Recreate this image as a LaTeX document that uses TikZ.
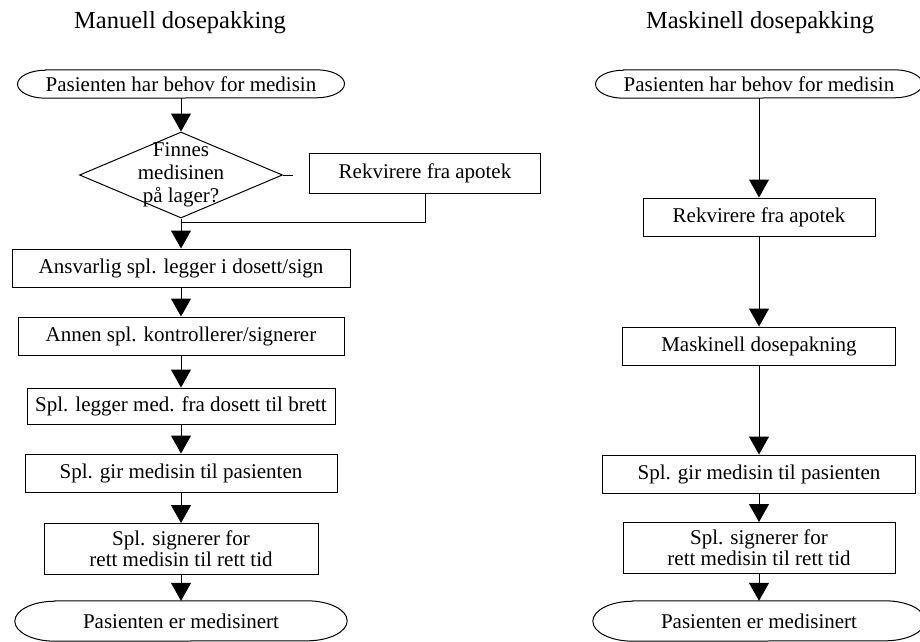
\documentclass[tikz,border=0pt]{standalone}
\usepackage{fontspec}
\setmainfont{Liberation Serif}
\usetikzlibrary{shapes.geometric,arrows.meta}
\tikzset{
    every node/.style={inner sep=0mm, align=center, font=\fontsize{21}{21}\selectfont}
}
\tikzset{
    box/.style={rectangle, draw, line width=1pt, minimum height=38pt},
    decision/.style={diamond, draw, line width=1pt, minimum width=203pt, minimum height=86pt},
    term/.style={rectangle, minimum height=#1,
        append after command={\pgfextra{\draw[line width=1pt]
            (\tikzlastnode.north west) -- (\tikzlastnode.north east)
            arc[start angle=90, end angle=-90, x radius=#1, y radius=#1/2]
            -- (\tikzlastnode.south west)
            arc[start angle=270, end angle=90, x radius=#1, y radius=#1/2] -- cycle;}}},
    title/.style={font=\fontsize{24.5}{24.5}\selectfont},
    arr/.style={-{Triangle[length=18pt, width=20pt]}, line width=1pt}
}

\begin{document}
\begin{tikzpicture}[x=1pt, y=-1pt]
        \useasboundingbox (0, 0) rectangle (920, 641);
        \node (t1) [title] at (180, 23) {Manuell dosepakking};
        \node (t2) [title] at (760, 23) {Maskinell dosepakking};
        % manuell
        \node (s1) [term=28pt, minimum width=270pt] at (181, 84) {Pasienten har behov for medisin};
        \node (q1) [decision, label={[font=\fontsize{21}{23}\selectfont]center:{Finnes\\medisinen\\på lager?}}] at (181, 175) {};
        \coordinate (q1t) at (293, 175);
        \node (r1) [box, minimum width=231pt, minimum height=40pt] at (425, 173) {Rekvirere fra apotek};
        \coordinate (j1) at (181, 222);
        \node (a1) [box, minimum width=338pt] at (181, 268) {Ansvarlig spl. legger i dosett/sign};
        \node (k1) [box, minimum width=326pt] at (181, 336) {Annen spl. kontrollerer/signerer};
        \node (l1) [box, minimum width=308pt, minimum height=36pt] at (181, 406) {Spl. legger med. fra dosett til brett};
        \node (g1) [box, minimum width=312pt] at (181, 473) {Spl. gir medisin til pasienten};
        \node (c1) [box, minimum width=274pt, minimum height=51pt] at (181, 549) {Spl. signerer for\\rett medisin til rett tid};
        \node (e1) [term=40pt, minimum width=252pt] at (181, 621) {Pasienten er medisinert};
        % maskinell
        \node (s2) [term=28pt, minimum width=270pt] at (759, 84) {Pasienten har behov for medisin};
        \node (r2) [box, minimum width=232pt] at (759, 217) {Rekvirere fra apotek};
        \node (m2) [box, minimum width=273pt] at (759, 346) {Maskinell dosepakning};
        \node (g2) [box, minimum width=313pt] at (759, 474) {Spl. gir medisin til pasienten};
        \node (c2) [box, minimum width=272pt, minimum height=51pt] at (759, 548) {Spl. signerer for\\rett medisin til rett tid};
        \node (e2) [term=40pt, minimum width=252pt] at (759, 621) {Pasienten er medisinert};

        \draw (s1) edge [arr] (q1);
        \draw [line width=1pt] (q1) -- (q1t);
        \draw [line width=1pt] (r1) |- (j1);
        \draw (q1) edge [arr] (a1);
        \draw (a1) edge [arr] (k1);
        \draw (k1) edge [arr] (l1);
        \draw (l1) edge [arr] (g1);
        \draw (g1) edge [arr] (c1);
        \draw (c1) edge [arr] (e1);

        \draw (s2) edge [arr] (r2);
        \draw (r2) edge [arr] (m2);
        \draw (m2) edge [arr] (g2);
        \draw (g2) edge [arr] (c2);
        \draw (c2) edge [arr] (e2);
\end{tikzpicture}
\end{document}
